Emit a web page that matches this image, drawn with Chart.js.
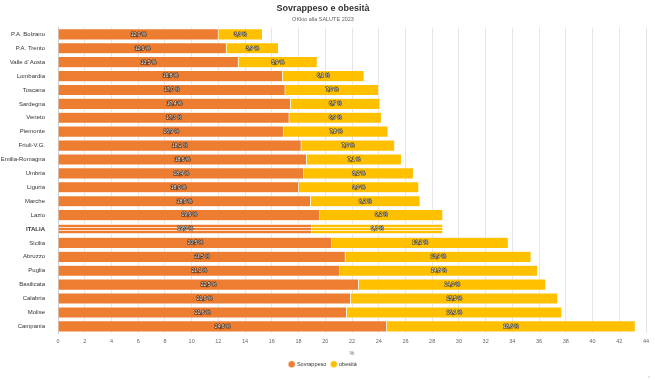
<!DOCTYPE html>
<html><head><meta charset="utf-8">
<script src="https://cdn.jsdelivr.net/npm/chart.js@4.4.1/dist/chart.umd.min.js"></script>
<style>html,body{margin:0;padding:0;background:#fff}#w{width:655px;height:380px;position:relative}</style>
</head><body><div id="w"><canvas id="c"></canvas></div>
<script>
const categories = ["P.A. Bolzano","P.A. Trento","Valle d´Aosta","Lombardia","Toscana","Sardegna","Veneto","Piemonte","Friuli-V.G.","Emilia-Romagna","Umbria","Liguria","Marche","Lazio","ITALIA","Sicilia","Abruzzo","Puglia","Basilicata","Calabria","Molise","Campania"];
const sovrappeso = [12.0,12.6,13.5,16.8,17.0,17.4,17.3,16.9,18.2,18.6,18.4,18.0,18.9,19.6,19.0,20.5,21.5,21.1,22.5,21.9,21.6,24.6];
const obesita = [3.3,3.9,5.9,6.1,7.0,6.7,6.9,7.8,7.0,7.1,8.2,9.0,8.2,9.2,9.8,13.2,13.9,14.8,14.0,15.5,16.1,18.6];
const seriesNames = ["Sovrappeso","obesità"];
const xTicks = [0,2,4,6,8,10,12,14,16,18,20,22,24,26,28,30,32,34,36,38,40,42,44];
const title = "Sovrappeso e obesità";
const subtitle = "OKkio alla SALUTE 2023";
const highlight = "ITALIA";

function stripe(color){
  const p=document.createElement('canvas');p.width=4;p.height=3;
  const g=p.getContext('2d');g.fillStyle=color;g.fillRect(0,0,4,3);
  g.fillStyle='rgba(255,255,255,0.75)';g.fillRect(0,2,4,1);
  return g.createPattern(p,'repeat');
}
const ctx=document.getElementById('c').getContext('2d');
const cols=['#ED7D31','#FFC000'];
const bg=i=>categories.map(c=>c===highlight?stripe(cols[i]):cols[i]);

const labelPlugin={id:'lbl',afterDatasetsDraw(ch){
  const g=ch.ctx;g.save();g.font='5px "Liberation Sans", Arial';g.textAlign='center';g.textBaseline='middle';
  g.lineJoin='round';
  ch.data.datasets.forEach((ds,di)=>{
    ch.getDatasetMeta(di).data.forEach((bar,i)=>{
      const v=ds.data[i];const t=v.toFixed(1).replace('.',',')+' %';
      const x=(bar.x+bar.base)/2,y=bar.y;
      g.strokeStyle='rgba(0,0,0,0.75)';g.lineWidth=1.2;g.strokeText(t,x,y);
      g.fillStyle='#fff';g.fillText(t,x,y);
    });
  });
  g.restore();
}};
const credit={id:'credit',afterDraw(ch){const g=ch.ctx;g.save();g.font='4px Arial';g.fillStyle='#bbb';g.textAlign='right';g.fillText('s',650,377);g.restore();}};

new Chart(ctx,{type:'bar',
  data:{labels:categories,datasets:[
    {label:seriesNames[0],data:sovrappeso,backgroundColor:bg(0),borderColor:'#fff',borderWidth:0.5,barPercentage:0.8,categoryPercentage:1},
    {label:seriesNames[1],data:obesita,backgroundColor:bg(1),borderColor:'#fff',borderWidth:0.5,barPercentage:0.8,categoryPercentage:1}
  ]},
  options:{indexAxis:'y',responsive:true,maintainAspectRatio:false,animation:false,
    layout:{padding:{left:0,right:9,top:0,bottom:3}},
    plugins:{
      title:{display:true,text:title,font:{family:'"Liberation Sans", Arial',size:9,weight:'bold'},color:'#333',padding:{top:3,bottom:1}},
      subtitle:{display:true,text:subtitle,font:{family:'"Liberation Sans", Arial',size:5.5},color:'#666',padding:{top:1,bottom:5}},
      legend:{position:'bottom',labels:{usePointStyle:true,pointStyle:'circle',boxWidth:5,boxHeight:5,padding:5,font:{family:'"Liberation Sans", Arial',size:5.5},color:'#333'}},
      tooltip:{enabled:false}
    },
    scales:{
      x:{stacked:true,min:0,max:44,afterBuildTicks(a){a.ticks=xTicks.map(v=>({value:v}));},
        grid:{color:'#e6e6e6',drawTicks:false},border:{display:false},
        ticks:{font:{family:'"Liberation Sans", Arial',size:5.5},color:'#666',padding:5,autoSkip:false,maxRotation:0},
        title:{display:true,text:'%',font:{family:'"Liberation Sans", Arial',size:5.5},color:'#666',padding:{top:0,bottom:0}}},
      y:{stacked:true,grid:{display:false},border:{display:true,color:'#ccc'},
        afterFit(a){a.width=58;},
        ticks:{font:c=>({family:'"Liberation Sans", Arial',size:6,weight:categories[c.index]===highlight?'bold':'normal'}),color:'#333',padding:5,autoSkip:false}}
    }
  },plugins:[labelPlugin,credit]});
</script></body></html>
